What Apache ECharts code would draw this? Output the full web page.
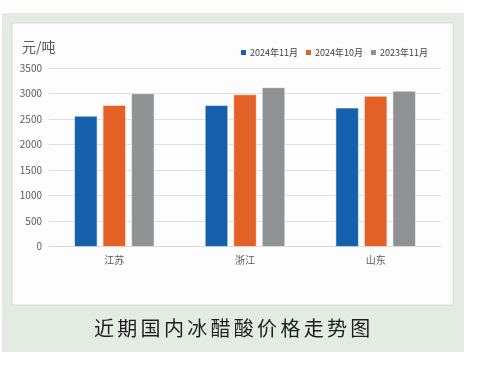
<!DOCTYPE html>
<html><head><meta charset="utf-8">
<script src="https://cdn.jsdelivr.net/npm/echarts@6/dist/echarts.min.js"></script>
<style>html,body{margin:0;padding:0;background:#fff}#c{width:481px;height:366px}</style>
</head><body><div id="c"></div>
<script>
const categories = ['江苏', '浙江', '山东'];
const seriesNames = ['2024年11月', '2024年10月', '2023年11月'];
const nov2024 = [2560, 2770, 2720];
const oct2024 = [2770, 2980, 2950];
const nov2023 = [3000, 3120, 3050];
const yTicks = [0, 500, 1000, 1500, 2000, 2500, 3000, 3500];
const colors = ['#1560ac', '#e36026', '#909193'];
const titleText = '近期国内冰醋酸价格走势图';

const chart = echarts.init(document.getElementById('c'), null, {renderer: 'canvas'});
const font = '"Noto Sans CJK SC", "Noto Sans", sans-serif';
const mk = (name, data, i) => ({
  name, type: 'bar', data,
  barWidth: 23, barGap: '24%',
  itemStyle: {color: colors[i], borderColor: '#ffffff', borderWidth: 0.5},
  z: 3
});
const titleChars = Array.from(titleText).map((ch, i) => ({
  type: 'text', x: 104 + i * 23.3, y: 328,
  style: {text: ch, fill: '#1e1e1e', font: '20px ' + font, align: 'center', verticalAlign: 'middle'}, z: 5
}));
chart.setOption({
  animation: false,
  textStyle: {fontFamily: font},
  graphic: [
    {type: 'rect', shape: {x: 2, y: 13, width: 462, height: 339}, style: {fill: '#e3ebe3'}, z: -10},
    {type: 'rect', shape: {x: 12, y: 23, width: 441, height: 282}, style: {fill: '#fdfdfd', stroke: '#d9d9d9', lineWidth: 1}, z: -9},
    {type: 'text', left: 22, top: 40, style: {text: '元/吨', fill: '#595959', font: '14px ' + font}, z: 5}
  ].concat(titleChars),
  legend: {
    top: 43, left: 234, itemWidth: 7, itemHeight: 7, itemGap: 6,
    icon: 'rect',
    textStyle: {fontSize: 9, color: '#404040', fontFamily: font, padding: [0, 0, 0, -2]},
    data: seriesNames
  },
  grid: {left: 49, right: 40, top: 68, bottom: 119.3, containLabel: false},
  xAxis: {
    type: 'category', data: categories,
    axisLine: {show: true, lineStyle: {color: '#d9d9d9'}},
    axisTick: {show: false},
    axisLabel: {fontSize: 10, color: '#595959', margin: 9}
  },
  yAxis: {
    type: 'value', min: 0, max: 3500, interval: 500,
    axisLine: {show: false}, axisTick: {show: false},
    splitLine: {lineStyle: {color: '#e0e0e0'}},
    axisLabel: {fontSize: 10, color: '#595959', margin: 7,
      formatter: v => yTicks.includes(v) ? String(v) : ''}
  },
  series: [mk(seriesNames[0], nov2024, 0), mk(seriesNames[1], oct2024, 1), mk(seriesNames[2], nov2023, 2)]
});
</script></body></html>
